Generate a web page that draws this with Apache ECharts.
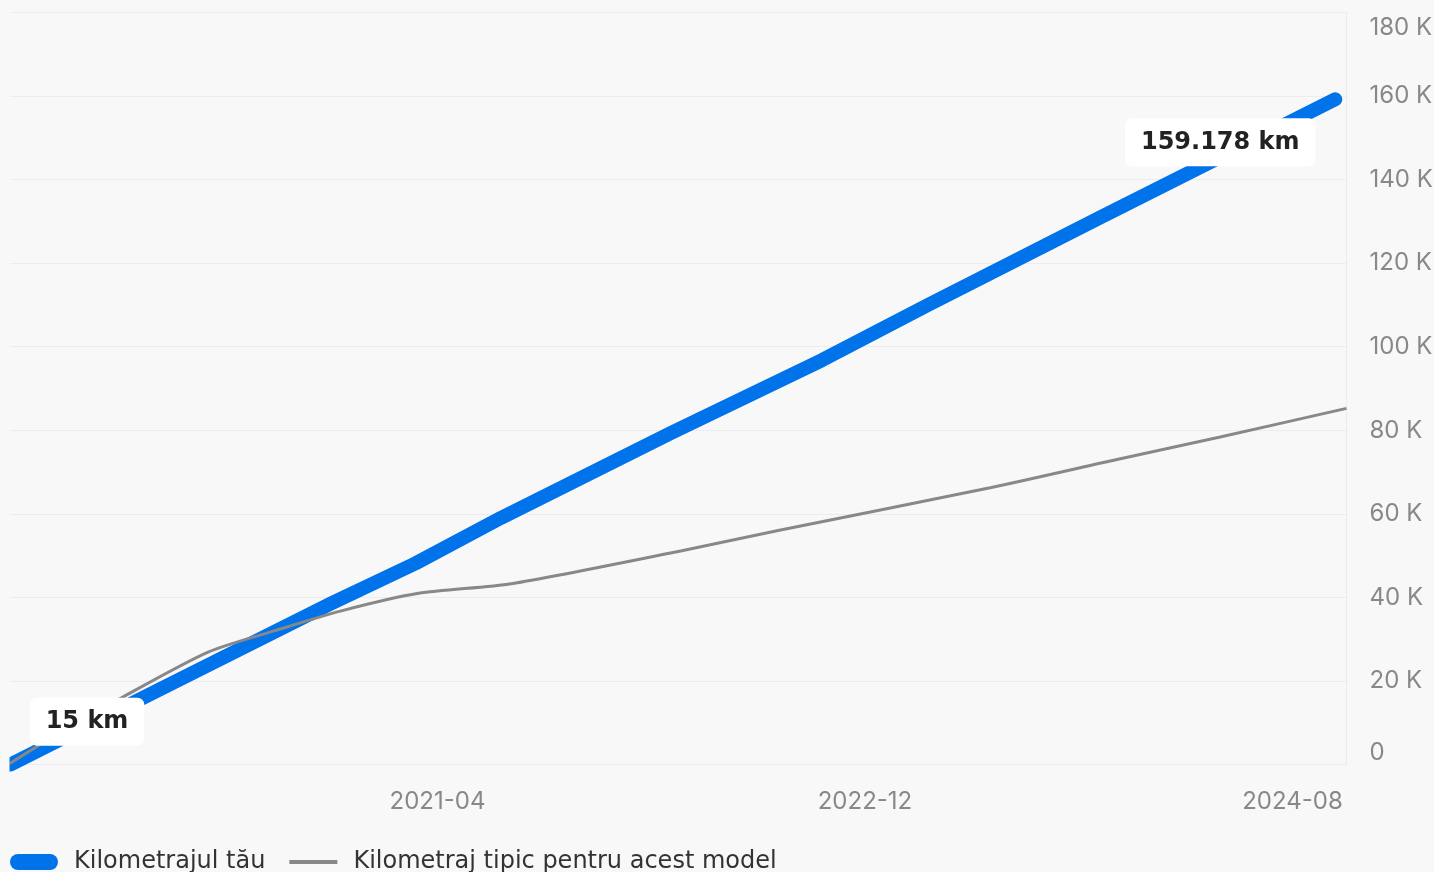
<!DOCTYPE html>
<html>
<head>
<meta charset="utf-8">
<script src="https://cdn.jsdelivr.net/npm/echarts@6/dist/echarts.min.js"></script>
<style>
  html, body { margin: 0; padding: 0; background: #f8f8f8; }
  #chart { width: 1434px; height: 872px; }
</style>
</head>
<body>
<div id="chart"></div>
<script>
// ---- data ----
const seriesNames = ['Kilometrajul tău', 'Kilometraj tipic pentru acest model'];

const yourDates = ['2019-08-01', '2020-03-01', '2020-11-01', '2021-03-01', '2021-07-01',
                   '2022-03-01', '2022-10-01', '2023-03-01', '2023-11-01', '2024-10-01'];
const yourKm = [15, 18000, 38600, 48200, 59100, 79500, 96800, 110000, 130900, 159178];

const typicalDates = ['2019-08-01', '2019-09-15', '2020-01-10', '2020-05-10', '2020-08-15',
                      '2020-11-15', '2021-03-05', '2021-07-15', '2022-03-15', '2022-08-01',
                      '2023-05-30', '2023-11-25', '2024-04-20', '2024-10-17'];
const typicalKm = [300, 5000, 16300, 27000, 32200, 36800, 41000, 43300, 51200, 56100,
                   66300, 73000, 78400, 85250];

const xRange = ['2019-08-01', '2024-10-17'];
const xTickLabels = ['2021-04', '2022-12', '2024-08'];
const yMin = 0, yMax = 180000, yStep = 20000;
const startLabel = '15 km';
const endLabel = '159.178 km';

// ---- helpers ----
function ts(s) { const p = s.split('-'); return new Date(+p[0], +p[1] - 1, p[2] ? +p[2] : 1).getTime(); }
function fmtYM(v) {
  const d = new Date(v);
  return d.getFullYear() + '-' + String(d.getMonth() + 1).padStart(2, '0');
}
const blueData = yourDates.map((d, i) => [ts(d), yourKm[i]]);
const grayData = typicalDates.map((d, i) => [ts(d), typicalKm[i]]);

const chart = echarts.init(document.getElementById('chart'), null, { renderer: 'canvas' });
chart.setOption({
  animation: false,
  backgroundColor: '#f8f8f8',
  grid: { left: 10, right: 87.5, top: 12.3, bottom: 107.3, containLabel: false, outerBoundsMode: 'none' },
  graphic: [{
    type: 'rect', left: 0, top: 0, z: 100,
    shape: { x: 0, y: 0, width: 9.5, height: 800 },
    style: { fill: '#f8f8f8' }, silent: true
  }],
  legend: {
    left: 5, top: 845,
    itemWidth: 48, itemHeight: 16, itemGap: 24,
    textStyle: { fontFamily: 'DejaVu Sans', fontSize: 24, color: '#333', padding: [0, 0, 0, 11] },
    data: [
      { name: seriesNames[0], icon: 'path://M8,0 L40,0 A8,8 0 0 1 40,16 L8,16 A8,8 0 0 1 8,0 Z' },
      { name: seriesNames[1], icon: 'path://M0,0 L48,0 L48,4 L0,4 Z' }
    ]
  },
  xAxis: {
    type: 'value',
    min: ts(xRange[0]), max: ts(xRange[1]),
    axisLine: { show: true, lineStyle: { color: '#ececec', width: 1 } },
    axisTick: { show: false },
    splitLine: { show: false },
    axisLabel: {
      customValues: xTickLabels.map(ts),
      formatter: fmtYM,
      fontFamily: 'Inter', fontSize: 24, color: '#888', margin: 25
    }
  },
  yAxis: {
    type: 'value',
    position: 'right',
    min: yMin, max: yMax, interval: yStep,
    axisLine: { show: true, lineStyle: { color: '#ececec', width: 1 } },
    axisTick: { show: false },
    splitLine: { show: true, lineStyle: { color: '#ececec', width: 1 } },
    axisLabel: {
      formatter: v => v === 0 ? '0' : (v / 1000) + ' K',
      fontFamily: 'Inter', fontSize: 24, color: '#888', margin: 23,
      padding: [3, 0, 0, 0],
      verticalAlignMaxLabel: 'top', verticalAlignMinLabel: 'bottom'
    }
  },
  series: [
    {
      name: seriesNames[0], type: 'line', data: blueData,
      symbol: 'none', smooth: false,
      lineStyle: { color: '#0073ea', width: 14, cap: 'round', join: 'round' },
      itemStyle: { color: '#0073ea' },
      markPoint: {
        z: 10,
        symbol: 'circle', symbolSize: 1,
        itemStyle: { color: 'rgba(0,0,0,0)' },
        label: {
          show: true, formatter: '{b}',
          backgroundColor: '#ffffff', borderRadius: 7, padding: [12, 16],
          color: '#222', fontFamily: 'DejaVu Sans', fontWeight: 'bold', fontSize: 24
        },
        data: [
          { name: startLabel, coord: blueData[0], label: { offset: [77, -43] } },
          { name: endLabel, coord: blueData[blueData.length - 1], label: { offset: [-115, 43] } }
        ]
      }
    },
    {
      name: seriesNames[1], type: 'line', data: grayData,
      symbol: 'none', smooth: 0.25,
      lineStyle: { color: '#888888', width: 3 },
      itemStyle: { color: '#888888' }
    }
  ]
});
</script>
</body>
</html>
